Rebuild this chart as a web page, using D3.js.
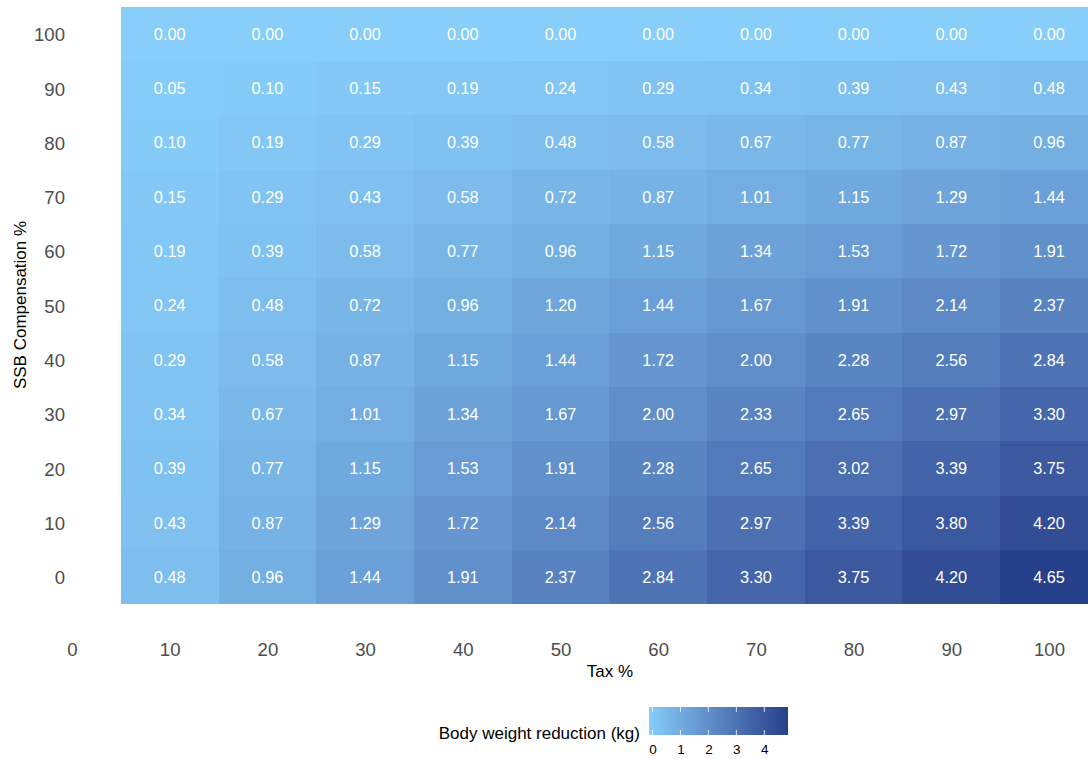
<!DOCTYPE html>
<html>
<head>
<meta charset="utf-8">
<script src="https://cdn.jsdelivr.net/npm/d3@7"></script>
<style>
  html, body { margin: 0; padding: 0; background: #fff; }
  svg { display: block; font-family: "Liberation Sans", Arial, sans-serif; }
</style>
</head>
<body>
<svg id="chart" width="1088" height="759"></svg>
<script>
// Tax levels (columns) and SSB compensation levels (rows)
const taxLevels = [10, 20, 30, 40, 50, 60, 70, 80, 90, 100];
const compensationLevels = [100, 90, 80, 70, 60, 50, 40, 30, 20, 10, 0];
const xTicks = [0, 10, 20, 30, 40, 50, 60, 70, 80, 90, 100];
const yTicks = [0, 10, 20, 30, 40, 50, 60, 70, 80, 90, 100];
const legendTicks = [0, 1, 2, 3, 4];

// Body weight reduction (kg), one row per compensation level (100 -> 0)
const reduction100 = [0.00, 0.00, 0.00, 0.00, 0.00, 0.00, 0.00, 0.00, 0.00, 0.00];
const reduction90  = [0.05, 0.10, 0.15, 0.19, 0.24, 0.29, 0.34, 0.39, 0.43, 0.48];
const reduction80  = [0.10, 0.19, 0.29, 0.39, 0.48, 0.58, 0.67, 0.77, 0.87, 0.96];
const reduction70  = [0.15, 0.29, 0.43, 0.58, 0.72, 0.87, 1.01, 1.15, 1.29, 1.44];
const reduction60  = [0.19, 0.39, 0.58, 0.77, 0.96, 1.15, 1.34, 1.53, 1.72, 1.91];
const reduction50  = [0.24, 0.48, 0.72, 0.96, 1.20, 1.44, 1.67, 1.91, 2.14, 2.37];
const reduction40  = [0.29, 0.58, 0.87, 1.15, 1.44, 1.72, 2.00, 2.28, 2.56, 2.84];
const reduction30  = [0.34, 0.67, 1.01, 1.34, 1.67, 2.00, 2.33, 2.65, 2.97, 3.30];
const reduction20  = [0.39, 0.77, 1.15, 1.53, 1.91, 2.28, 2.65, 3.02, 3.39, 3.75];
const reduction10  = [0.43, 0.87, 1.29, 1.72, 2.14, 2.56, 2.97, 3.39, 3.80, 4.20];
const reduction0   = [0.48, 0.96, 1.44, 1.91, 2.37, 2.84, 3.30, 3.75, 4.20, 4.65];

const rows = [reduction100, reduction90, reduction80, reduction70, reduction60,
              reduction50, reduction40, reduction30, reduction20, reduction10, reduction0];

const cells = [];
rows.forEach((vals, i) => {
  vals.forEach((v, j) => {
    cells.push({ tax: taxLevels[j], comp: compensationLevels[i], value: v });
  });
});

const svg = d3.select("#chart");
const FONT = "Liberation Sans, Arial, sans-serif";

const x = d3.scaleLinear().domain([0, 100]).range([72, 1049]);
const y = d3.scaleLinear().domain([0, 100]).range([577, 34]);

const maxVal = d3.max(cells, d => d.value);
const color = d3.scaleSequential()
  .domain([0, maxVal])
  .interpolator(d3.interpolateLab("#87CEFA", "#27408B"));

// Heatmap tiles
svg.append("g")
  .selectAll("rect")
  .data(cells)
  .join("rect")
  .attr("x", d => x(d.tax - 5))
  .attr("y", d => y(d.comp + 5))
  .attr("width", d => x(d.tax + 5) - x(d.tax - 5))
  .attr("height", d => y(d.comp - 5) - y(d.comp + 5))
  .attr("fill", d => color(d.value))
  .attr("shape-rendering", "crispEdges");

// Value labels
svg.append("g")
  .selectAll("text")
  .data(cells)
  .join("text")
  .attr("x", d => x(d.tax))
  .attr("y", d => y(d.comp))
  .attr("dy", "0.36em")
  .attr("text-anchor", "middle")
  .attr("fill", "#ffffff")
  .attr("font-size", 16.3)
  .text(d => d.value.toFixed(2));

// X axis (labels only)
const xAxis = d3.axisBottom(x).tickValues(xTicks).tickSize(0).tickPadding(0);
const gx = svg.append("g").attr("transform", "translate(0,643)").call(xAxis);
gx.select(".domain").remove();
gx.selectAll("text")
  .attr("font-size", 18.6)
  .attr("fill", "#4D4D4D")
  .attr("font-family", FONT)
  .attr("dy", "0.71em");

// Y axis (labels only)
const yAxis = d3.axisLeft(y).tickValues(yTicks).tickSize(0).tickPadding(0);
const gy = svg.append("g").attr("transform", "translate(65,0)").call(yAxis);
gy.select(".domain").remove();
gy.selectAll("text")
  .attr("font-size", 18.6)
  .attr("fill", "#4D4D4D")
  .attr("font-family", FONT)
  .attr("dy", "0.36em");

// Axis titles
svg.append("text")
  .attr("x", 610)
  .attr("y", 677)
  .attr("text-anchor", "middle")
  .attr("font-size", 17)
  .attr("fill", "#000")
  .text("Tax %");

svg.append("text")
  .attr("transform", "translate(26,305) rotate(-90)")
  .attr("text-anchor", "middle")
  .attr("font-size", 17)
  .attr("fill", "#000")
  .text("SSB Compensation %");

// Colour legend
const legX0 = 649, legX1 = 788, legY = 707, legH = 28;
const defs = svg.append("defs");
const grad = defs.append("linearGradient").attr("id", "legendGrad")
  .attr("x1", "0%").attr("x2", "100%").attr("y1", "0%").attr("y2", "0%");
d3.range(0, 1.0001, 0.05).forEach(t => {
  grad.append("stop").attr("offset", (t * 100) + "%").attr("stop-color", color(t * maxVal));
});

const legScale = d3.scaleLinear().domain([0, maxVal]).range([652.5, 782.5]);

svg.append("rect")
  .attr("x", legX0).attr("y", legY)
  .attr("width", legX1 - legX0).attr("height", legH)
  .attr("fill", "url(#legendGrad)");

const legTicks = svg.append("g");
legendTicks.forEach(t => {
  legTicks.append("line")
    .attr("x1", legScale(t)).attr("x2", legScale(t))
    .attr("y1", legY).attr("y2", legY + 5)
    .attr("stroke", "#fff").attr("stroke-opacity", 0.8).attr("stroke-width", 1);
  legTicks.append("line")
    .attr("x1", legScale(t)).attr("x2", legScale(t))
    .attr("y1", legY + legH - 5).attr("y2", legY + legH)
    .attr("stroke", "#fff").attr("stroke-opacity", 0.8).attr("stroke-width", 1);
});

const legAxis = d3.axisBottom(legScale).tickValues(legendTicks).tickSize(0).tickPadding(0).tickFormat(d3.format("d"));
const gl = svg.append("g").attr("transform", `translate(0,${legY + legH + 9})`).call(legAxis);
gl.select(".domain").remove();
gl.selectAll("text")
  .attr("font-size", 13.5)
  .attr("fill", "#000")
  .attr("font-family", FONT)
  .attr("dy", "0.71em");

svg.append("text")
  .attr("x", 640)
  .attr("y", 739)
  .attr("text-anchor", "end")
  .attr("font-size", 17)
  .attr("fill", "#000")
  .text("Body weight reduction (kg)");
</script>
</body>
</html>
